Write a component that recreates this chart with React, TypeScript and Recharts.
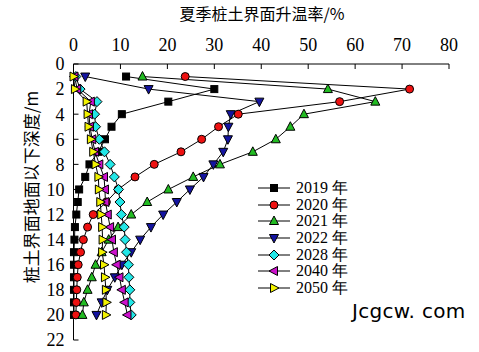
import { LineChart, Line, XAxis, YAxis, Legend, Label } from 'recharts';

const depths = [1, 2, 3, 4, 5, 6, 7, 8, 9, 10, 11, 12, 13, 14, 15, 16, 17, 18, 19, 20];

const y2019 = [11.2, 30, 20.2, 10.3, 8.1, 6.7, 5.3, 3.4, 2.5, 1.2, 0.9, 0.6, 0.3, 0.2, 0.1, 0.1, 0.1, 0.1, 0.1, 0.1];
const y2020 = [23.8, 71.6, 56.7, 35.1, 30.9, 27.3, 22.9, 17.2, 13.1, 9.5, 7.0, 4.2, 3.0, 2.1, 1.5, 1.0, 0.8, 0.7, 0.6, 0.5];
const y2021 = [14.7, 54.2, 64.3, 49.1, 46.2, 43.1, 38.2, 31.2, 25.5, 20.2, 15.7, 12.3, 9.5, 7.5, 6.0, 4.7, 3.9, 3.0, 2.2, 1.9];
const y2022 = [2.5, 16, 39.6, 33.5, 33, 32.9, 31.9, 29.8, 27.7, 24.8, 22, 19.1, 16.5, 14.2, 12.3, 10.3, 8.8, 7.2, 6.0, 4.9];
const y2028 = [0.5, 1.4, 5.0, 4.5, 4.7, 5.5, 6.6, 7.8, 8.7, 9.6, 9.9, 10.2, 10.8, 11.0, 11.3, 11.7, 11.8, 12.0, 12.0, 12.3];
const y2040 = [0.2, 0.8, 3.7, 3.3, 3.5, 4.0, 4.6, 5.5, 6.5, 6.7, 6.8, 7.3, 7.8, 8.2, 8.6, 9.2, 9.8, 10.3, 10.9, 11.5];
const y2050 = [0, 0.3, 2.8, 3.0, 3.2, 3.7, 4.2, 4.7, 5.3, 5.4, 5.7, 5.9, 6.1, 6.2, 6.1, 6.5, 6.7, 6.9, 7.0, 6.9];

const xTicks = [0, 10, 20, 30, 40, 50, 60, 70, 80];
const yTicks = [0, 2, 4, 6, 8, 10, 12, 14, 16, 18, 20, 22];

const series = [
  { key: 's2019', name: '2019 年', values: y2019, shape: 'square', fill: '#000000' },
  { key: 's2020', name: '2020 年', values: y2020, shape: 'circle', fill: '#ee1111' },
  { key: 's2021', name: '2021 年', values: y2021, shape: 'up', fill: '#22bb22' },
  { key: 's2022', name: '2022 年', values: y2022, shape: 'down', fill: '#1414a0' },
  { key: 's2028', name: '2028 年', values: y2028, shape: 'diamond', fill: '#22e6e6' },
  { key: 's2040', name: '2040 年', values: y2040, shape: 'left', fill: '#cc11cc' },
  { key: 's2050', name: '2050 年', values: y2050, shape: 'right', fill: '#f2f200' },
];

const data = depths.map((d, i) => {
  const row: Record<string, number> = { depth: d };
  series.forEach((s) => { row[s.key] = s.values[i]; });
  return row;
});

function Marker({ cx, cy, shape, fill }: { cx: number; cy: number; shape: string; fill: string }) {
  const st = { fill, stroke: '#000', strokeWidth: 1 };
  if (shape === 'square') return <rect x={cx - 3.5} y={cy - 3.5} width={7} height={7} {...st} />;
  if (shape === 'circle') return <circle cx={cx} cy={cy} r={4} {...st} />;
  let pts: number[][] = [];
  if (shape === 'up') pts = [[0, -5], [4.5, 3.5], [-4.5, 3.5]];
  if (shape === 'down') pts = [[0, 5], [4.5, -3.5], [-4.5, -3.5]];
  if (shape === 'diamond') pts = [[0, -5], [5, 0], [0, 5], [-5, 0]];
  if (shape === 'left') pts = [[-5, 0], [3.5, -4.5], [3.5, 4.5]];
  if (shape === 'right') pts = [[5, 0], [-3.5, -4.5], [-3.5, 4.5]];
  return <polygon points={pts.map((p) => `${cx + p[0]},${cy + p[1]}`).join(' ')} {...st} />;
}

const serif = "'Liberation Serif', 'Times New Roman', serif";
const cjk = "'Noto Sans CJK SC', sans-serif";

function LegendBox() {
  return (
    <div style={{ fontFamily: serif, fontSize: 16, color: '#000' }}>
      {series.map((s) => (
        <div key={s.key} style={{ display: 'flex', alignItems: 'center', height: 16.6 }}>
          <svg width={34} height={14} style={{ marginRight: 4 }}>
            <line x1={0} y1={7} x2={32} y2={7} stroke="#000" strokeWidth={1} />
            <Marker cx={16} cy={7} shape={s.shape} fill={s.fill} />
          </svg>
          <span style={{ lineHeight: '16px' }}>{s.name}</span>
        </div>
      ))}
    </div>
  );
}

export default function App() {
  return (
    <div style={{ position: 'absolute', left: 0, top: 0, width: 479, height: 352, background: '#fff' }}>
      <LineChart
        width={479}
        height={352}
        data={data}
        layout="vertical"
        margin={{ top: 0, right: 30, bottom: 12, left: 0 }}
      >
        <XAxis
          type="number"
          orientation="top"
          domain={[0, 80]}
          ticks={xTicks}
          interval={0}
          height={64}
          tickSize={-5}
          tickMargin={18}
          axisLine={{ stroke: '#000' }}
          tickLine={{ stroke: '#000' }}
          tick={{ fill: '#000', fontSize: 18, fontFamily: serif }}
        >
          <Label
            content={() => (
              <text x={262} y={20} textAnchor="middle" fontSize={16} fontFamily={cjk} fill="#000">
                夏季桩土界面升温率/%
              </text>
            )}
          />
        </XAxis>
        <YAxis
          type="number"
          dataKey="depth"
          domain={[0, 22]}
          ticks={yTicks}
          interval={0}
          width={73.5}
          tickSize={-5}
          tickMargin={14}
          axisLine={{ stroke: '#000' }}
          tickLine={{ stroke: '#000' }}
          tick={{ fill: '#000', fontSize: 18, fontFamily: serif }}
        >
          <Label
            content={() => (
              <text
                x={30}
                y={187}
                transform="rotate(-90 30 187)"
                textAnchor="middle"
                dominantBaseline="central"
                fontSize={17}
                fontFamily={cjk}
                fill="#000"
              >
                桩土界面地面以下深度/m
              </text>
            )}
          />
        </YAxis>
        <Legend
          layout="vertical"
          align="center"
          verticalAlign="middle"
          content={() => <LegendBox />}
          wrapperStyle={{ left: 258, top: 180, width: 120 }}
        />
        {series.map((s) => (
          <Line
            key={s.key}
            dataKey={s.key}
            name={s.name}
            stroke="#000"
            strokeWidth={1}
            isAnimationActive={false}
            dot={(p: any) => <Marker key={`${s.key}-${p.index}`} cx={p.cx} cy={p.cy} shape={s.shape} fill={s.fill} />}
            activeDot={false}
          />
        ))}
      </LineChart>
      <div
        style={{
          position: 'absolute',
          left: 352,
          top: 300,
          fontFamily: "'DejaVu Sans', sans-serif",
          fontSize: 20,
          lineHeight: '22px',
          letterSpacing: 0.3,
          color: '#000',
        }}
      >
        Jcgcw. com
      </div>
    </div>
  );
}
